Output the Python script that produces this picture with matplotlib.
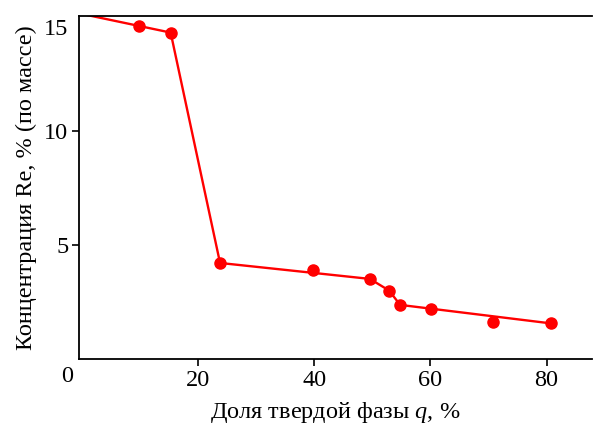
import matplotlib
matplotlib.use("Agg")
import matplotlib.pyplot as plt
import matplotlib.transforms as mtransforms

# Data
q_points = [9.9, 15.3, 23.8, 39.8, 49.6, 52.9, 54.8, 60.1, 70.8, 80.7]
re_points = [14.62, 14.33, 4.22, 3.93, 3.52, 3.01, 2.38, 2.19, 1.61, 1.57]

q_line = [0.0, 15.3, 23.8, 49.6, 52.9, 54.8, 80.7]
re_line = [15.15, 14.33, 4.22, 3.52, 3.01, 2.38, 1.57]

x_ticks = [20, 40, 60, 80]
y_ticks = [5, 10, 15]
y_tick_labels = ["5", "10", "15"]

plt.rcParams['font.family'] = ['Liberation Serif', 'DejaVu Serif']
plt.rcParams['mathtext.fontset'] = 'custom'
plt.rcParams['mathtext.it'] = 'Liberation Serif:italic'
plt.rcParams['mathtext.rm'] = 'Liberation Serif'

fig = plt.figure(figsize=(5.93, 4.26), dpi=100)
ax = fig.add_axes([0.134, 0.157, 0.864, 0.805])

ax.plot(q_line, re_line, color='#ff0000', lw=1.7, zorder=2)
ax.plot(q_points, re_points, 'o', color='#ff0000', ms=8, zorder=3)

ax.set_xlim(-0.4, 87.8)
ax.set_ylim(0, 15.05)

ax.spines['right'].set_visible(False)
for s in ['left', 'bottom', 'top']:
    ax.spines[s].set_linewidth(1.3)

ax.set_xticks(x_ticks)
ax.set_yticks(y_ticks)
ax.set_yticklabels(y_tick_labels)
ax.tick_params(direction='out', length=5, width=1.2, labelsize=17.5, pad=3)

# the top "15" label: no tick mark, label shifted down
t15 = ax.yaxis.get_major_ticks()[-1]
t15.tick1line.set_visible(False)
offset = mtransforms.ScaledTranslation(0, -10/100, fig.dpi_scale_trans)
t15.label1.set_transform(t15.label1.get_transform() + offset)

ax.annotate("0", xy=(0, 0), xycoords='data', xytext=(-10.8, -12.5),
            textcoords='offset points', ha='center', va='center', fontsize=17.5,
            annotation_clip=False)

ax.set_xlabel(r"Доля твердой фазы $q$, %", fontsize=17.5, labelpad=6)
ax.set_ylabel("Концентрация Re, % (по массе)", fontsize=17.5, labelpad=5)

fig.savefig("out.png", dpi=100)
